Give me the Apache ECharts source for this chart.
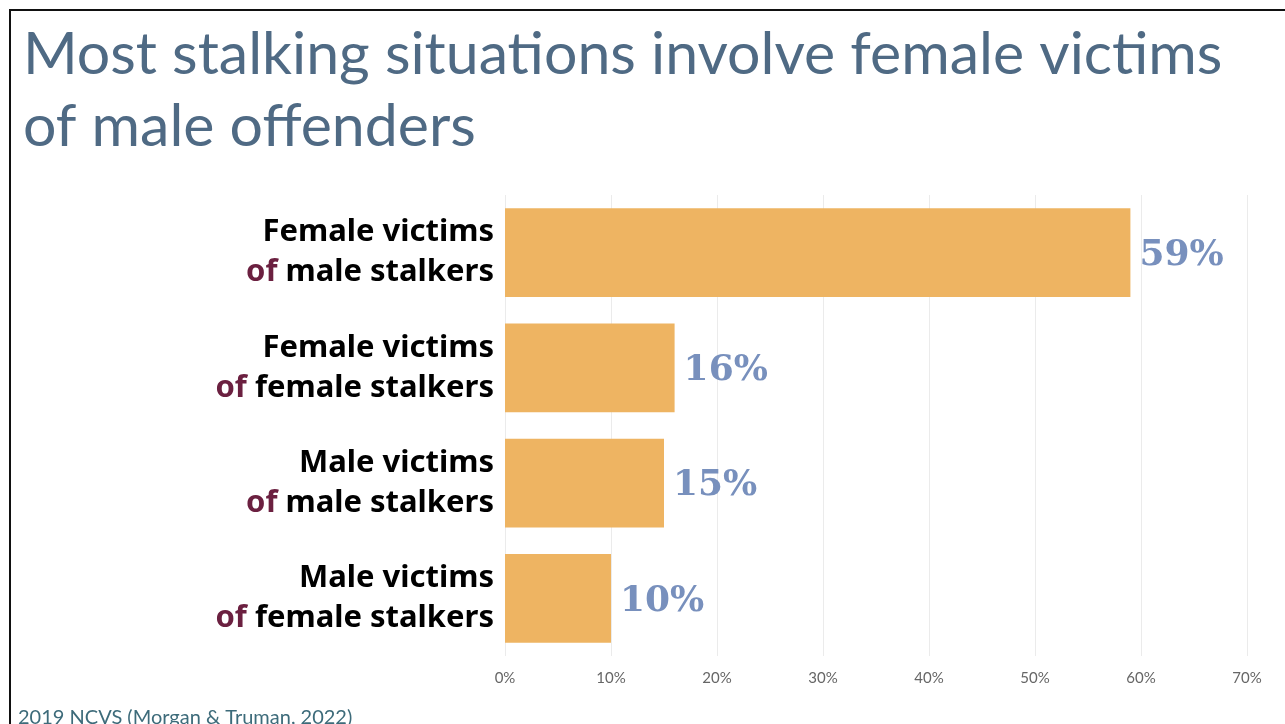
<!DOCTYPE html>
<html>
<head>
<meta charset="utf-8">
<title>Stalking situations</title>
<script src="https://cdn.jsdelivr.net/npm/echarts@6/dist/echarts.min.js"></script>
<style>
  html, body { margin: 0; padding: 0; background: #fff; }
  #chart { width: 1285px; height: 724px; }
</style>
</head>
<body>
<div id="chart"></div>
<script>
// categories, top to bottom
const victims = ['Female victims', 'Female victims', 'Male victims', 'Male victims']
const offenders = ['male stalkers', 'female stalkers', 'male stalkers', 'female stalkers']
// share of stalking situations (%)
const shares = [59, 16, 15, 10]
const xTicks = [0, 10, 20, 30, 40, 50, 60, 70]

const categories = victims.map((v, i) => v + '\n' + offenders[i])

const chart = echarts.init(document.getElementById('chart'))

chart.setOption({
  animation: false,
  title: {
    text: 'Most stalking situations involve female victims\nof male offenders',
    left: 18,
    top: 14,
    textStyle: {
      fontFamily: 'Lato',
      fontWeight: 'normal',
      fontSize: 59,
      lineHeight: 72,
      color: '#4f6a84',
    },
  },
  graphic: [
    { type: 'line', shape: { x1: 9, y1: 10, x2: 1285, y2: 10 }, style: { stroke: '#111', lineWidth: 2 } },
    { type: 'line', shape: { x1: 10, y1: 9, x2: 10, y2: 724 }, style: { stroke: '#111', lineWidth: 2 } },
    {
      type: 'text',
      left: 18,
      top: 708,
      style: {
        text: '2019 NCVS (Morgan & Truman, 2022)',
        fontFamily: 'Lato',
        fontSize: 20,
        fill: '#3d6b7a',
      },
    },
  ],
  grid: {
    left: 505,
    right: 38,
    top: 195,
    bottom: 68,
  },
  xAxis: {
    type: 'value',
    min: xTicks[0],
    max: xTicks[xTicks.length - 1],
    interval: 10,
    axisLine: { show: false },
    axisTick: { show: false },
    splitLine: { lineStyle: { color: '#ebebeb', width: 1 } },
    axisLabel: {
      margin: 15,
      fontFamily: 'Lato',
      fontSize: 15,
      color: '#666',
      formatter: '{value}%',
    },
  },
  yAxis: {
    type: 'category',
    inverse: true,
    data: categories,
    axisLine: { show: false },
    axisTick: { show: false },
    axisLabel: {
      margin: 11,
      align: 'right',
      formatter: (val) => {
        const parts = val.split('\n')
        return '{b|' + parts[0] + '}\n{of|of }{b|' + parts[1] + '}'
      },
      rich: {
        b: { fontFamily: 'Noto Sans', fontWeight: 'bold', fontSize: 31, lineHeight: 40, color: '#000' },
        of: { fontFamily: 'Noto Sans', fontWeight: 'bold', fontSize: 31, lineHeight: 40, color: '#6b2040' },
      },
    },
  },
  series: [{
    type: 'bar',
    data: shares,
    barWidth: '77%',
    itemStyle: { color: '#eeb462' },
    label: {
      show: true,
      position: 'right',
      distance: 9,
      offset: [0, 3],
      formatter: '{c}%',
      fontFamily: 'DejaVu Serif',
      fontWeight: 'bold',
      fontSize: 36,
      color: '#7890bd',
    },
  }],
})
</script>
</body>
</html>
